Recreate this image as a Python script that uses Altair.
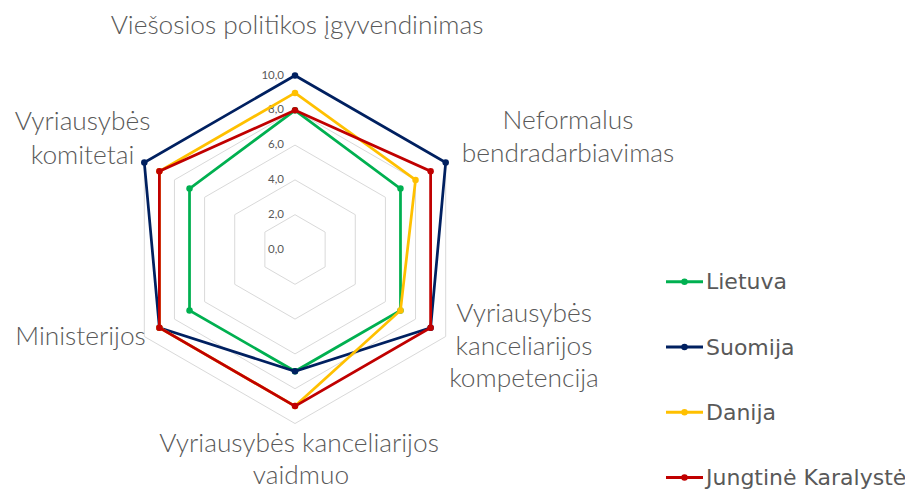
import math
import altair as alt
import pandas as pd

# ---------------- data ----------------
categories = [
    "Viešosios politikos įgyvendinimas",
    "Neformalus bendradarbiavimas",
    "Vyriausybės kanceliarijos kompetencija",
    "Vyriausybės kanceliarijos vaidmuo",
    "Ministerijos",
    "Vyriausybės komitetai",
]
category_lines = [
    ["Viešosios politikos įgyvendinimas"],
    ["Neformalus", "bendradarbiavimas"],
    ["Vyriausybės", "kanceliarijos", "kompetencija"],
    ["Vyriausybės kanceliarijos", "vaidmuo"],
    ["Ministerijos"],
    ["Vyriausybės", "komitetai"],
]
series = ["Lietuva", "Suomija", "Danija", "Jungtinė Karalystė"]
lietuva = [8, 7, 7, 7, 7, 7]
suomija = [10, 10, 9, 7, 9, 10]
danija = [9, 8, 7, 9, 9, 9]
jungtine = [8, 9, 9, 9, 9, 9]
values = [lietuva, suomija, danija, jungtine]
colors = ["#00B050", "#002060", "#FFC000", "#C00000"]
tick_values = [0, 2, 4, 6, 8, 10]
tick_labels = ["0,0", "2,0", "4,0", "6,0", "8,0", "10,0"]

# ---------------- layout (page pixels) ----------------
W, H = 897, 482
CX, CY = 295, 249.5
UNIT = 17.4  # pixels per value unit
TEXT = "#595959"
GRID = "#D9D9D9"
# label line anchors (center x, baseline y) per category line
LABEL_POS = [
    [(297, 34)],
    [(568, 128.5), (568, 162)],
    [(524, 322), (524, 354.5), (524, 387)],
    [(299, 452), (301, 484)],
    [(80.5, 345)],
    [(82.5, 130), (82.5, 163.5)],
]
LEG_X0, LEG_X1, LEG_DOT, LEG_TX = 666, 703, 684.5, 706
LEG_Y0, LEG_DY = 281.7, 65.3

xmin = (8 - CX) / UNIT
xmax = (8 + W - CX) / UNIT
ymax = (CY - 8) / UNIT
ymin = (CY - 8 - H) / UNIT
xs = alt.Scale(domain=[xmin, xmax], nice=False, zero=False)
ys = alt.Scale(domain=[ymin, ymax], nice=False, zero=False)


def px2x(px):
    return (px - CX) / UNIT


def py2y(py):
    return (CY - py) / UNIT


X = lambda f: alt.X(f, type="quantitative", scale=xs, axis=None)
Y = lambda f: alt.Y(f, type="quantitative", scale=ys, axis=None)

# ---------------- tables ----------------
rows = []
for s, vals in zip(series, values):
    for k in range(7):
        i = k % 6
        rows.append({"series": s, "cat": categories[i], "idx": i, "order": k, "value": vals[i]})
radar = pd.DataFrame(rows)

grid_rows = []
for t in tick_values[1:]:
    for k in range(7):
        grid_rows.append({"level": t, "idx": k % 6, "order": k})
grid = pd.DataFrame(grid_rows)

ticks = pd.DataFrame({"value": tick_values, "label": tick_labels})

lab_rows = []
for lines, pos in zip(category_lines, LABEL_POS):
    for line, (lx, ly) in zip(lines, pos):
        lab_rows.append({"text": line, "x": px2x(lx), "y": py2y(ly)})
labels = pd.DataFrame(lab_rows)

leg = pd.DataFrame({"series": series, "color": colors, "row": list(range(len(series)))})
leg["y"] = [py2y(LEG_Y0 + r * LEG_DY) for r in leg["row"]]
leg["ty"] = [py2y(LEG_Y0 + r * LEG_DY + 7.6) for r in leg["row"]]
leg["x0"] = px2x(LEG_X0)
leg["x1"] = px2x(LEG_X1)
leg["xd"] = px2x(LEG_DOT)
leg["xt"] = px2x(LEG_TX)

# ---------------- layers ----------------
layers = []

grid_layer = (
    alt.Chart(grid)
    .transform_calculate(
        gx="datum.level * sin(datum.idx * PI / 3)",
        gy="datum.level * cos(datum.idx * PI / 3)",
    )
    .mark_line(stroke=GRID, strokeWidth=1)
    .encode(x=X("gx"), y=Y("gy"), detail="level:N", order="order:Q")
)
layers.append(grid_layer)

tick_layer = (
    alt.Chart(ticks)
    .transform_calculate(ty="datum.value")
    .mark_text(align="right", baseline="middle", font="Lato", fontSize=11.5, color=TEXT, dx=-11)
    .encode(x=alt.value(CX - 8), y=Y("ty"), text="label:N")
)
layers.append(tick_layer)

for s, col in zip(series, colors):
    base = (
        alt.Chart(radar)
        .transform_filter(alt.datum.series == s)
        .transform_calculate(
            px="datum.value * sin(datum.idx * PI / 3)",
            py="datum.value * cos(datum.idx * PI / 3)",
        )
    )
    layers.append(
        base.mark_line(stroke=col, strokeWidth=2.75).encode(x=X("px"), y=Y("py"), order="order:Q")
    )
    layers.append(
        base.transform_filter(alt.datum.order < 6)
        .mark_point(filled=True, size=42, color=col, opacity=1)
        .encode(x=X("px"), y=Y("py"))
    )

label_layer = (
    alt.Chart(labels)
    .mark_text(align="center", baseline="alphabetic", font="Lato", fontSize=26.3,
               fontWeight=300, color=TEXT)
    .encode(x=X("x"), y=Y("y"), text="text:N")
)
layers.append(label_layer)

leg_line = (
    alt.Chart(leg)
    .mark_rule(strokeWidth=3)
    .encode(x=X("x0"), x2="x1", y=Y("y"), color=alt.Color("color:N", scale=None))
)
leg_dot = (
    alt.Chart(leg)
    .mark_point(filled=True, size=42, opacity=1)
    .encode(x=X("xd"), y=Y("y"), color=alt.Color("color:N", scale=None))
)
leg_text = (
    alt.Chart(leg)
    .mark_text(align="left", baseline="alphabetic", font="DejaVu Sans", fontSize=22, color=TEXT)
    .encode(x=X("xt"), y=Y("ty"), text="series:N")
)
layers += [leg_line, leg_dot, leg_text]

chart = (
    alt.layer(*layers)
    .properties(width=W, height=H, padding=0, autosize=alt.AutoSizeParams(type="none"))
    .configure_view(stroke=None)
)

chart.save("out.html", embed_options={"renderer": "svg", "actions": False})
